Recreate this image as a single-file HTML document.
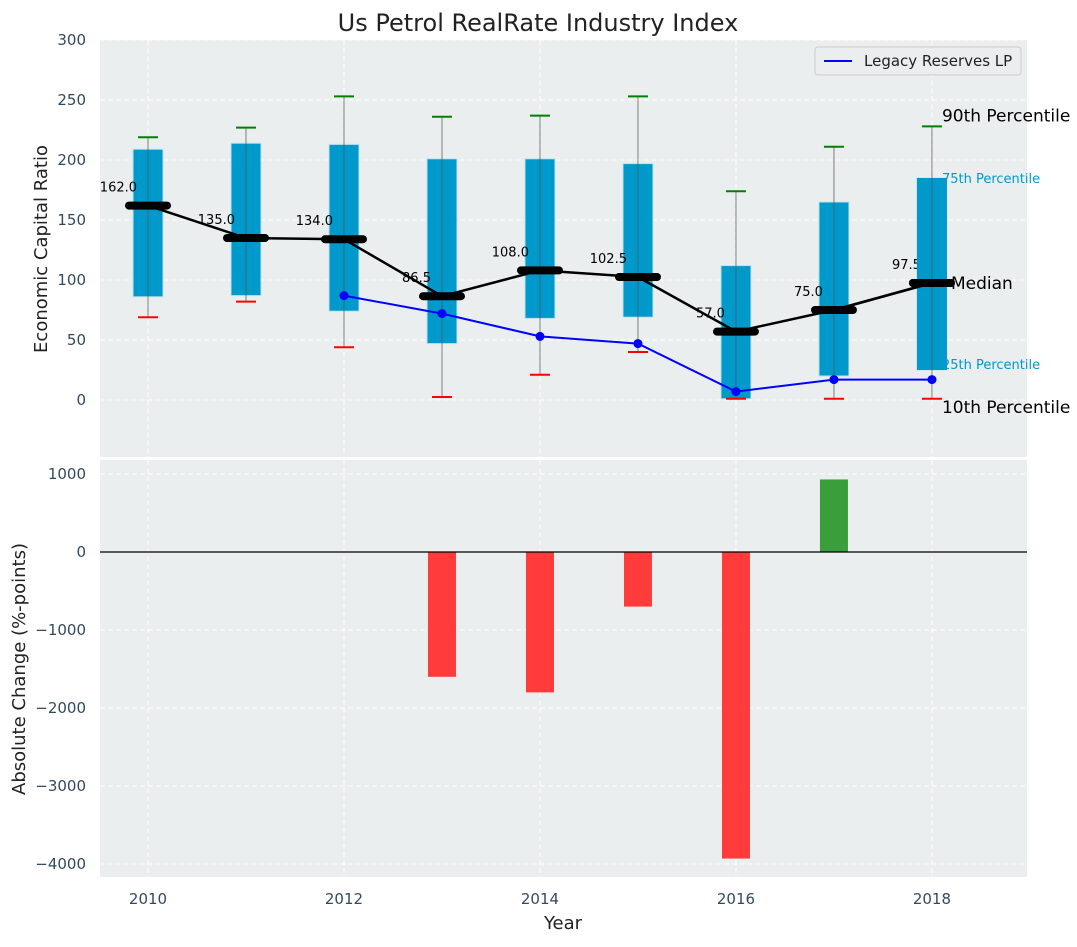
<!DOCTYPE html>
<html><head><meta charset="utf-8"><style>
body{margin:0;background:#fff;font-family:"Liberation Sans","DejaVu Sans",sans-serif;}
svg text{font-family:"DejaVu Sans","Liberation Sans",sans-serif;}
</style></head><body>
<svg id="c" width="1077" height="942" xmlns="http://www.w3.org/2000/svg"></svg>
<script>
const years=[2010,2011,2012,2013,2014,2015,2016,2017,2018];
const p90=[219,227,253,236,237,253,174,211,228];
const q3=[209,214,213,201,201,197,112,165,185];
const med=[162,135,134,86.5,108,102.5,57,75,97.5];
const q1=[86,87,74,47,68,69,1,20,25];
const p10=[69,82,44,2.5,21,40,1,1,1];
const legYears=[2012,2013,2014,2015,2016,2017,2018];
const legVals=[87,72,53,47,7,17,17];
const chgYears=[2013,2014,2015,2016,2017];
const chgVals=[-1600,-1800,-700,-3930,930];
const yTicksTop=[0,50,100,150,200,250,300];
const yTicksBot=[-4000,-3000,-2000,-1000,0,1000];
const xTicks=[2010,2012,2014,2016,2018];

const NS="http://www.w3.org/2000/svg";
const svg=document.getElementById('c');
function el(t,a,p){const e=document.createElementNS(NS,t);for(const k in a)e.setAttribute(k,a[k]);(p||svg).appendChild(e);return e;}
const L=100,R=1027,T1=40,B1=457,T2=460,B2=877;
const x=v=>L+(v-2009.51)/(2018.97-2009.51)*(R-L);
const y1=v=>400-v*1.2;
const y2=v=>552-v*0.078;

let e=el('rect',{x:L,y:T1,width:R-L,height:B1-T1,fill:'#eaeeee'});

e=el('rect',{x:L,y:T2,width:R-L,height:B2-T2,fill:'#eaeeee'});

yTicksTop.forEach(v=>{el('line',{x1:L,x2:R,y1:y1(v),y2:y1(v),stroke:'#fff','stroke-dasharray':'5,3'});
 e=el('text',{x:L-14,y:y1(v)+5,'text-anchor':'end','font-size':15,fill:'#34495e'});e.textContent=v;
 });
yTicksBot.forEach(v=>{el('line',{x1:L,x2:R,y1:y2(v),y2:y2(v),stroke:'#fff','stroke-dasharray':'5,3'});
 e=el('text',{x:L-14,y:y2(v)+5,'text-anchor':'end','font-size':15,fill:'#34495e'});e.textContent=(v<0?'\u2212'+(-v):v);
 });
xTicks.forEach(v=>{el('line',{x1:x(v),x2:x(v),y1:T1,y2:B1,stroke:'#fff','stroke-dasharray':'5,3'});
 el('line',{x1:x(v),x2:x(v),y1:T2,y2:B2,stroke:'#fff','stroke-dasharray':'5,3'});
 e=el('text',{x:x(v),y:904,'text-anchor':'middle','font-size':15,fill:'#34495e'});e.textContent=v;
 });

years.forEach((yr,i)=>{const cx=x(yr);
 e=el('rect',{x:cx-15,y:y1(q3[i]),width:30,height:y1(q1[i])-y1(q3[i]),fill:'#0099cc',stroke:'#bfe3ee','stroke-width':1});
 
 el('line',{x1:cx,x2:cx,y1:y1(p90[i]),y2:y1(p10[i]),stroke:'#555','stroke-opacity':0.6,'stroke-width':1.2});
 e=el('line',{x1:cx-10,x2:cx+10,y1:y1(p90[i]),y2:y1(p90[i]),stroke:'green','stroke-width':2});
 
 e=el('line',{x1:cx-10,x2:cx+10,y1:y1(p10[i]),y2:y1(p10[i]),stroke:'red','stroke-width':2});
 
});
e=el('polyline',{points:years.map((yr,i)=>x(yr)+','+y1(med[i])).join(' '),fill:'none',stroke:'#000','stroke-width':2.5});

years.forEach((yr,i)=>{const cx=x(yr);
 e=el('line',{x1:cx-19,x2:cx+19,y1:y1(med[i]),y2:y1(med[i]),stroke:'#000','stroke-width':8,'stroke-linecap':'round'});
 
 e=el('text',{x:cx-11,y:y1(med[i])-14,'text-anchor':'end','font-size':13,fill:'#000'});e.textContent=med[i].toFixed(1);
 
});
e=el('polyline',{points:legYears.map((yr,i)=>x(yr)+','+y1(legVals[i])).join(' '),fill:'none',stroke:'#0000ff','stroke-width':2});

legYears.forEach((yr,i)=>{e=el('circle',{cx:x(yr),cy:y1(legVals[i]),r:4.5,fill:'#0000ff'});
 });
const ax=x(2018)+10, li=years.length-1;
[['90th Percentile',p90[li],17,'#000',-5],['75th Percentile',q3[li],13,'#0099cc',5],['Median',med[li],17,'#000',6],['25th Percentile',q1[li],13,'#0099cc',-1],['10th Percentile',p10[li],17,'#000',14]].forEach(a=>{
 e=el('text',{x:a[0]==='Median'?ax+9:ax,y:y1(a[1])+a[4],'font-size':a[2],fill:a[3]});e.textContent=a[0];
 });
el('rect',{x:x(2018)-15,y:y1(q3[li]),width:30,height:y1(q1[li])-y1(q3[li]),fill:'#0099cc'});
el('line',{x1:x(2018),x2:x(2018),y1:y1(q3[li]),y2:y1(q1[li]),stroke:'#555','stroke-opacity':0.6,'stroke-width':1.2});
el('line',{x1:x(2017),x2:x(2018),y1:y1(med[li-1]),y2:y1(med[li]),stroke:'#000','stroke-width':2.5});
el('line',{x1:x(2018)-19,x2:x(2018)+19,y1:y1(med[li]),y2:y1(med[li]),stroke:'#000','stroke-width':8,'stroke-linecap':'round'});

const lg=el('g',{});
el('rect',{x:815,y:47,width:206,height:28,rx:3,fill:'#eaeeee',stroke:'#ccc'},lg);
el('line',{x1:824,x2:852,y1:61,y2:61,stroke:'#0000ff','stroke-width':2},lg);
e=el('text',{x:864,y:66,'font-size':15,fill:'#222'},lg);e.textContent='Legacy Reserves LP';

chgYears.forEach((yr,i)=>{const v=chgVals[i];
 e=el('rect',{x:x(yr)-14,y:Math.min(y2(v),y2(0)),width:28,height:Math.abs(y2(v)-y2(0)),fill:v<0?'#ff3b3b':'#3a9e3a'});
 });
e=el('line',{x1:L,x2:R,y1:y2(0),y2:y2(0),stroke:'#000','stroke-width':1.3});


e=el('text',{x:538,y:31,'text-anchor':'middle','font-size':24,fill:'#222'});e.textContent='Us Petrol RealRate Industry Index';

e=el('text',{x:0,y:0,'text-anchor':'middle','font-size':18,fill:'#222',transform:'translate(47,249) rotate(-90)'});e.textContent='Economic Capital Ratio';

e=el('text',{x:0,y:0,'text-anchor':'middle','font-size':18,fill:'#222',transform:'translate(25,669) rotate(-90)'});e.textContent='Absolute Change (%-points)';

e=el('text',{x:563,y:929,'text-anchor':'middle','font-size':18,fill:'#222'});e.textContent='Year';

</script>
</body></html>
